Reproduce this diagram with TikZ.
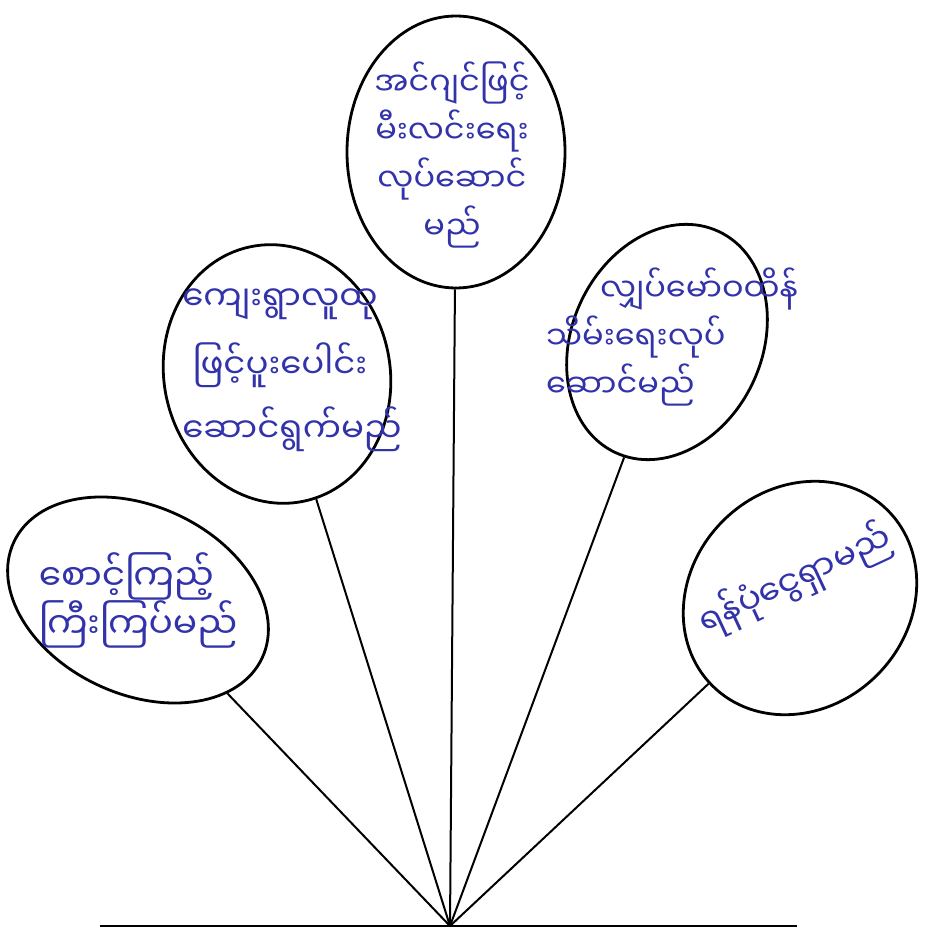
\documentclass[tikz,border=0pt]{standalone}
\usepackage{fontspec}
\newfontfamily\myan[Script=Myanmar]{Noto Sans Myanmar UI}
\usetikzlibrary{shapes.geometric}
\definecolor{ink}{RGB}{50,50,170}
\tikzset{
  bubble/.style={draw, ellipse, line width=1.4pt, inner sep=0pt},
  spoke/.style={line width=1pt},
  says/.style={text=ink, font=\myan\fontsize{#1}{24}\selectfont, inner sep=0pt},
  says/.default=16,
}
\begin{document}
\begin{tikzpicture}[x=0.5pt, y=0.5pt]
\useasboundingbox (0,0) rectangle (931,-930);
% hub and base line
\coordinate (hub) at (450,-926);
\coordinate (baseL) at (100,-926);
\coordinate (baseR) at (797,-926);
\draw[spoke] (baseL) -- (baseR);
% the five bubbles
\node[bubble, minimum width=109pt, minimum height=136pt] (light) at (456,-152) {};
\node[bubble, minimum width=113pt, minimum height=130pt, rotate=12] (village) at (277,-374) {};
\node[bubble, minimum width=95pt, minimum height=122pt, rotate=-25] (keep) at (667,-342) {};
\node[bubble, minimum width=137pt, minimum height=94pt, rotate=-25] (watch) at (138,-600) {};
\node[bubble, minimum width=124pt, minimum height=109pt, rotate=45] (fund) at (800,-598) {};
% texts
\node[says, align=center] (light-t) at (452,-155) {အင်ဂျင်ဖြင့်\\မီးလင်းရေး\\လုပ်ဆောင်\\မည်};
\node[says=17, align=center] (village-t) at (280,-370) {ကျေးရွာလူထု\\[10pt]ဖြင့်ပူးပေါင်း\\[8pt]\hspace{12pt}ဆောင်ရွက်မည်};
\node[says, align=left] (keep-t) at (672,-337) {\hspace{27pt}လျှပ်မော်ဝထိန်\\သိမ်းရေးလုပ်\\ဆောင်မည်};
\node[says=18, align=left] (watch-t) at (138,-600) {စောင့်ကြည့်\\ကြီးကြပ်မည်};
\node[says=17, rotate=25] (fund-t) at (795,-580) {ရန်ပုံငွေရှာမည်};
% spokes
\foreach \b in {watch, village, light, keep, fund}
  \draw[spoke] (hub) -- (\b);
\end{tikzpicture}
\end{document}
